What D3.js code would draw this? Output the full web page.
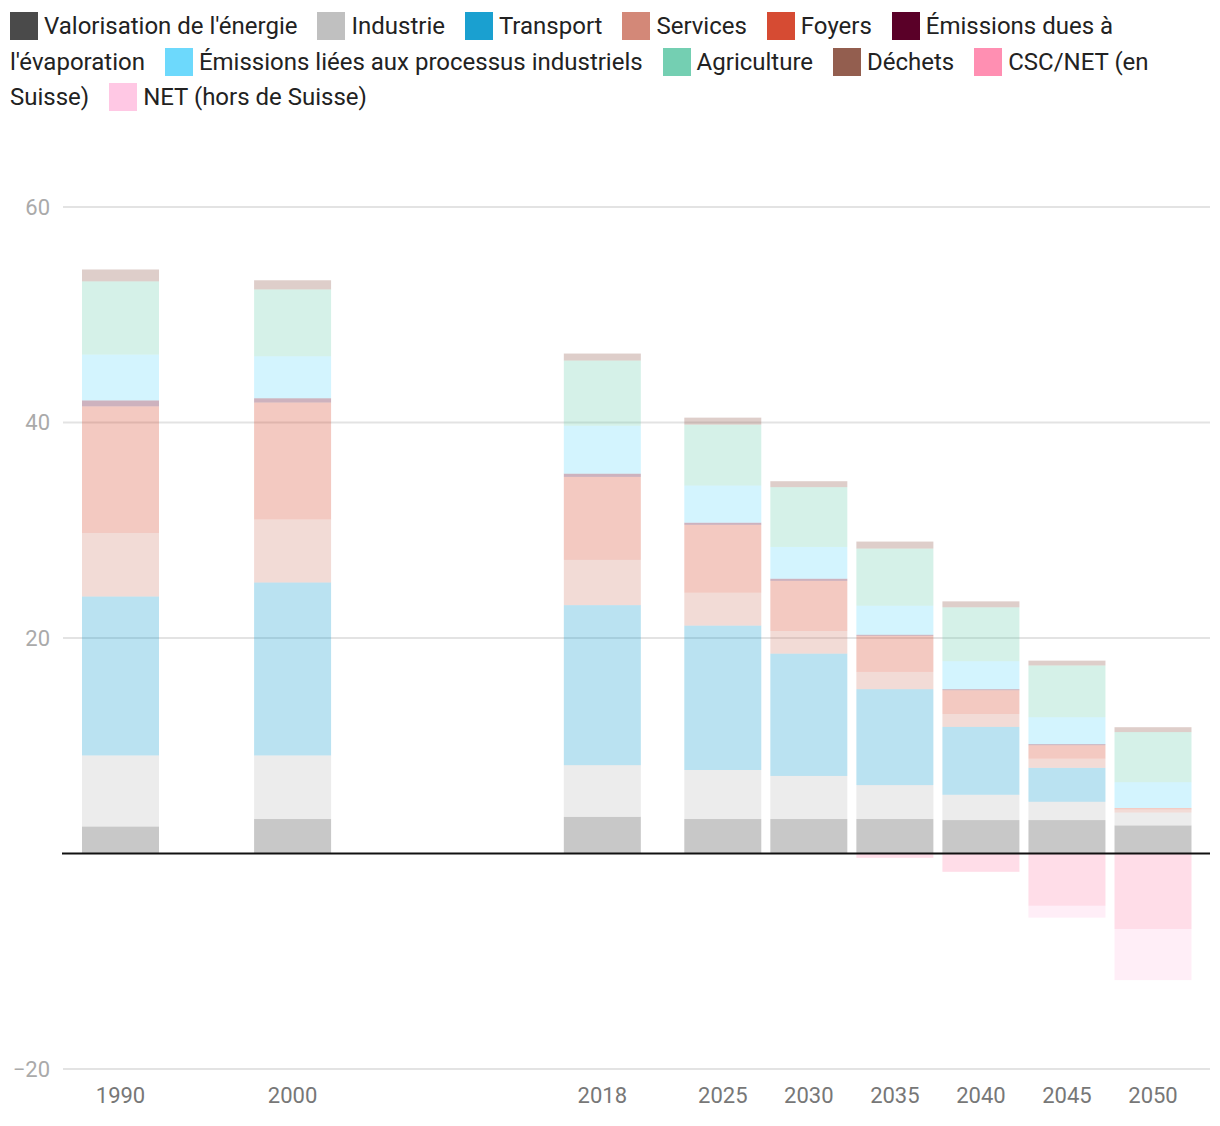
<!DOCTYPE html>
<html>
<head>
<meta charset="utf-8">
<script src="https://cdn.jsdelivr.net/npm/d3@7"></script>
<style>
  html, body { margin: 0; padding: 0; background: #fff; }
  body { width: 1220px; height: 1126px; position: relative; overflow: hidden; font-family: Roboto, "Noto Sans", sans-serif; }
  #legend { position: absolute; left: 10px; top: 9px; width: 1200px; font-size: 24px; line-height: 35.5px; color: #222; }
  .gap { display: inline-block; width: 14px; }
  .sw { display: inline-block; width: 28px; height: 28px; vertical-align: -6px; margin-right: 6px; }
  svg { position: absolute; left: 0; top: 0; }
</style>
</head>
<body>
<div id="legend"></div>
<svg id="chart" width="1220" height="1126"></svg>
<script>
const years = [1990, 2000, 2018, 2025, 2030, 2035, 2040, 2045, 2050];

const seriesNames = [
  "Valorisation de l'énergie", "Industrie", "Transport", "Services", "Foyers",
  "Émissions dues à l'évaporation", "Émissions liées aux processus industriels",
  "Agriculture", "Déchets", "CSC/NET (en Suisse)", "NET (hors de Suisse)"
];
const seriesColors = [
  "#4a4a4a", "#c0c0c0", "#1aa0d0", "#d38878", "#d64b33",
  "#5a0028", "#6dd9fc", "#74cfb2", "#935e4f", "#ff8fb2", "#ffc8e4"
];

const valorisation = [2.5, 3.2, 3.4, 3.2, 3.2, 3.2, 3.1, 3.1, 2.6];
const industrie    = [6.6, 5.9, 4.8, 4.55, 4.0, 3.15, 2.35, 1.7, 1.2];
const transport    = [14.75, 16.05, 14.85, 13.4, 11.35, 8.9, 6.3, 3.15, 0];
const services     = [5.9, 5.85, 4.2, 3.05, 2.1, 1.6, 1.2, 0.85, 0.3];
const foyers       = [11.75, 10.85, 7.7, 6.3, 4.65, 3.35, 2.2, 1.25, 0.12];
const evaporation  = [0.55, 0.4, 0.3, 0.2, 0.2, 0.1, 0.1, 0.1, 0];
const processus    = [4.25, 3.9, 4.45, 3.45, 2.95, 2.7, 2.6, 2.5, 2.4];
const agriculture  = [6.8, 6.2, 6.05, 5.65, 5.55, 5.3, 5.0, 4.8, 4.65];
const dechets      = [1.1, 0.85, 0.65, 0.65, 0.55, 0.65, 0.55, 0.45, 0.45];
const cscNet       = [0, 0, 0, 0, 0, -0.4, -1.7, -4.85, -7.0];
const netHors      = [0, 0, 0, 0, 0, 0, 0, -1.1, -4.75];

const yTicks = [-20, 20, 40, 60];

const seriesValues = [valorisation, industrie, transport, services, foyers,
  evaporation, processus, agriculture, dechets, cscNet, netHors];

// table for d3.stack
const table = years.map((yr, i) => {
  const row = { year: yr };
  seriesNames.forEach((n, k) => row[n] = seriesValues[k][i]);
  return row;
});

// legend: words as separate inline spans so wrapping items do not form one big box
const legendNode = document.getElementById("legend");
seriesNames.forEach((n, k) => {
  if (k > 0) {
    const g = document.createElement("span");
    g.className = "gap";
    legendNode.appendChild(g);
    legendNode.appendChild(document.createTextNode(" "));
  }
  const sw = document.createElement("span");
  sw.className = "sw";
  sw.style.background = seriesColors[k];
  legendNode.appendChild(sw);
  n.split(" ").forEach((w, j) => {
    if (j > 0) legendNode.appendChild(document.createTextNode(" "));
    const s = document.createElement("span");
    s.textContent = w;
    legendNode.appendChild(s);
  });
});

const svg = d3.select("#chart");
const x = d3.scaleLinear().domain([1990, 2050]).range([120.5, 1153]);
const y = d3.scaleLinear().domain([-20, 60]).range([1069, 207]);
const barW = 77;
const left = 63, right = 1210;

// grid lines
svg.append("g").selectAll("line").data(yTicks).join("line")
  .attr("x1", left).attr("x2", right)
  .attr("y1", d => y(d)).attr("y2", d => y(d))
  .attr("stroke", "#e3e3e3").attr("stroke-width", 2);

// y tick labels
svg.append("g").selectAll("text").data(yTicks).join("text")
  .attr("x", 50).attr("y", d => y(d)).attr("dy", "0.35em")
  .attr("text-anchor", "end").attr("fill", "#aaa")
  .style("font-size", "22px")
  .text(d => d < 0 ? "\u2212" + Math.abs(d) : d);

const stack = d3.stack().keys(seriesNames).offset(d3.stackOffsetDiverging);
const layers = stack(table);

svg.append("g").selectAll("g").data(layers).join("g")
  .attr("fill", (d, k) => seriesColors[k]).attr("fill-opacity", 0.3)
  .selectAll("rect").data(d => d).join("rect")
  .attr("x", d => x(d.data.year) - barW / 2)
  .attr("width", barW)
  .attr("y", d => y(Math.max(d[0], d[1])))
  .attr("height", d => Math.abs(y(d[0]) - y(d[1])));

// zero line
svg.append("line").attr("x1", 62).attr("x2", right)
  .attr("y1", y(0)).attr("y2", y(0)).attr("stroke", "#111").attr("stroke-width", 2);

// x tick labels
svg.append("g").selectAll("text").data(years).join("text")
  .attr("x", d => x(d)).attr("y", 1095).attr("dy", "0.35em")
  .attr("text-anchor", "middle").attr("fill", "#777")
  .style("font-size", "22px")
  .text(d => d);
</script>
</body>
</html>
